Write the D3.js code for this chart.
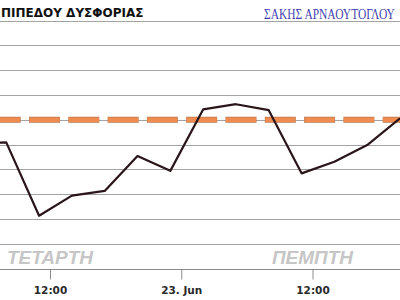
<!DOCTYPE html>
<html>
<head>
<meta charset="utf-8">
<script src="https://cdn.jsdelivr.net/npm/d3@7"></script>
<style>
  html, body { margin: 0; padding: 0; background: #fff; }
  svg { display: block; }
</style>
</head>
<body>
<svg id="chart" width="400" height="300"></svg>
<script>
// Discomfort index, 3-hourly readings (22-23 June 2011)
const times = [
  '2011-06-22T05:00Z', '2011-06-22T08:00Z', '2011-06-22T11:00Z', '2011-06-22T14:00Z',
  '2011-06-22T17:00Z', '2011-06-22T20:00Z', '2011-06-22T23:00Z', '2011-06-23T02:00Z',
  '2011-06-23T05:00Z', '2011-06-23T08:00Z', '2011-06-23T11:00Z', '2011-06-23T14:00Z',
  '2011-06-23T17:00Z', '2011-06-23T20:00Z'
];
const values = [23.05, 23.09, 20.13, 20.94, 21.13, 22.54, 21.94, 24.42, 24.63, 24.39, 21.84, 22.31, 22.98, 24.06];
const threshold = 24;
const tickTimes = ['2011-06-22T12:00Z', '2011-06-23T00:00Z', '2011-06-23T12:00Z'];
const dayLabels = [
  { at: '2011-06-22T12:00Z', text: 'ΤΕΤΑΡΤΗ' },
  { at: '2011-06-23T12:00Z', text: 'ΠΕΜΠΤΗ' }
];
const title = 'ΠΙΠΕΔΟΥ ΔΥΣΦΟΡΙΑΣ';
const credit = 'ΣΑΚΗΣ ΑΡΝΑΟΥΤΟΓΛΟΥ';

const svg = d3.select('#chart');
const W = 400;

const x = d3.scaleUtc()
  .domain([new Date(tickTimes[0]), new Date(tickTimes[2])])
  .range([50, 312.5]);

const y = d3.scaleLinear()
  .domain([18, 28])
  .range([268.5, 20.7]);

const points = times.map((t, i) => ({ t: new Date(t), v: values[i] }));

// Horizontal grid lines
svg.append('g')
  .selectAll('line')
  .data(y.ticks(10).slice(1))
  .join('line')
  .attr('x1', 0)
  .attr('x2', W)
  .attr('y1', d => Math.round(y(d)) + 0.5)
  .attr('y2', d => Math.round(y(d)) + 0.5)
  .attr('stroke', '#a3a3a3')
  .attr('stroke-width', 1);

// Day labels (behind the series)
svg.append('g')
  .selectAll('text')
  .data(dayLabels)
  .join('text')
  .attr('x', d => x(new Date(d.at)))
  .attr('y', 264)
  .attr('text-anchor', 'middle')
  .attr('font-family', '"Liberation Sans", Arial, sans-serif')
  .attr('font-weight', 'bold')
  .attr('font-style', 'italic')
  .attr('font-size', 19)
  .attr('fill', '#c6c6c6')
  .text(d => d.text);

// X axis
const xAxis = d3.axisBottom(x)
  .tickValues(tickTimes.map(t => new Date(t)))
  .tickSize(10)
  .tickSizeOuter(0)
  .tickFormat(d => d.getUTCHours() === 0 ? d3.utcFormat('%-d. %b')(d) : d3.utcFormat('%H:%M')(d));

const axisG = svg.append('g')
  .attr('transform', `translate(0,${Math.round(y(18)) + 0.5})`)
  .call(xAxis);

axisG.select('.domain').remove();
axisG.insert('line', ':first-child')
  .attr('x1', 0).attr('x2', W)
  .attr('stroke', '#8c8c8c');
axisG.selectAll('.tick line').attr('stroke', '#8c8c8c');
axisG.selectAll('.tick text')
  .attr('dy', '1.05em')
  .attr('font-family', '"DejaVu Sans", Verdana, sans-serif')
  .attr('font-weight', 'bold')
  .attr('font-size', 10.5)
  .attr('fill', '#2a2a2a');

// Threshold line (outline + orange fill dashes)
svg.append('line')
  .attr('x1', 0)
  .attr('x2', W)
  .attr('y1', y(threshold))
  .attr('y2', y(threshold))
  .attr('stroke', '#b87a55')
  .attr('stroke-width', 6)
  .attr('stroke-dasharray', '31,8.3')
  .attr('stroke-dashoffset', 10.3);
svg.append('line')
  .attr('x1', 0)
  .attr('x2', W)
  .attr('y1', y(threshold))
  .attr('y2', y(threshold))
  .attr('stroke', '#f08c50')
  .attr('stroke-width', 4.4)
  .attr('stroke-dasharray', '30.2,9.1')
  .attr('stroke-dashoffset', 9.9);

// Series
const line = d3.line()
  .x(d => x(d.t))
  .y(d => y(d.v));

svg.append('path')
  .datum(points)
  .attr('d', line)
  .attr('fill', 'none')
  .attr('stroke', '#2a1519')
  .attr('stroke-width', 2.2)
  .attr('stroke-linejoin', 'round');

// Titles
svg.append('text')
  .attr('x', 1)
  .attr('y', 17)
  .attr('font-family', '"DejaVu Sans", Verdana, sans-serif')
  .attr('font-weight', 'bold')
  .attr('font-size', 12)
  .attr('fill', '#111')
  .text(title);

// Credit: condensed by horizontal scaling so it fits the right edge
const creditText = svg.append('text')
  .attr('font-family', '"Liberation Serif", "Times New Roman", serif')
  .attr('font-size', 14.5)
  .attr('fill', '#3f3fb0')
  .text(credit);
const natural = creditText.node().getComputedTextLength();
creditText.attr('transform', `translate(264,18.5) scale(${131 / natural},1)`);
</script>
</body>
</html>
